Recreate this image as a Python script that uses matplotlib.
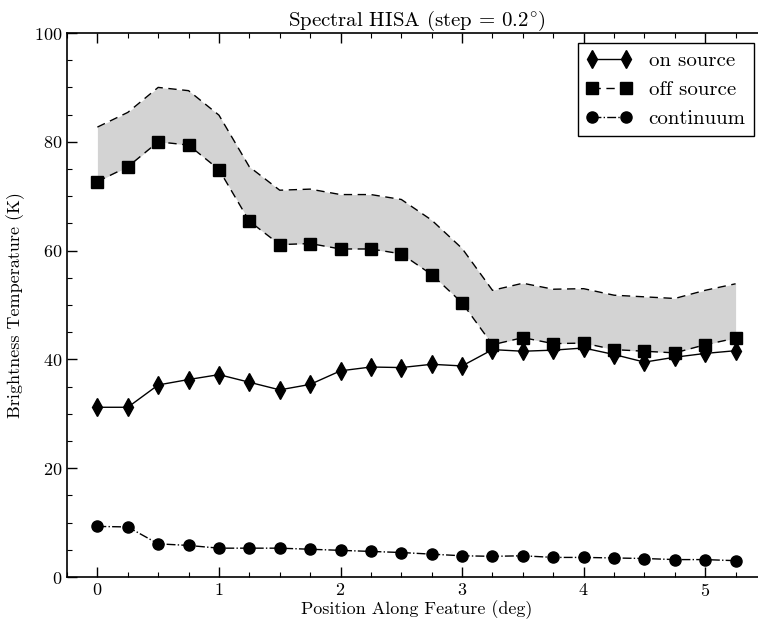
import numpy as np
import matplotlib
matplotlib.use('Agg')
import matplotlib.pyplot as plt
from matplotlib.ticker import MultipleLocator

# fonts: computer modern look
matplotlib.rc('font', family='serif', serif=['cmr10'], size=12)
matplotlib.rc('mathtext', fontset='cm')
matplotlib.rc('axes', unicode_minus=False)
matplotlib.rcParams['axes.formatter.use_mathtext'] = True

############################################################################
# data
############################################################################
position = [0.0, 0.25, 0.5, 0.75, 1.0, 1.25, 1.5, 1.75, 2.0, 2.25, 2.5,
            2.75, 3.0, 3.25, 3.5, 3.75, 4.0, 4.25, 4.5, 4.75, 5.0, 5.25]

on_source = [31.2, 31.2, 35.3, 36.3, 37.2, 35.8, 34.4, 35.4, 37.9, 38.6, 38.5,
             39.1, 38.8, 41.8, 41.5, 41.7, 42.1, 40.9, 39.5, 40.4, 41.1, 41.6]

off_source = [72.7, 75.4, 80.0, 79.4, 74.9, 65.4, 61.1, 61.3, 60.3, 60.3, 59.4,
              55.6, 50.4, 42.7, 44.0, 42.9, 43.0, 41.8, 41.5, 41.2, 42.7, 43.9]

off_upper = [82.7, 85.4, 90.0, 89.4, 84.9, 75.4, 71.1, 71.3, 70.3, 70.3, 69.4,
             65.6, 60.4, 52.7, 54.0, 52.9, 53.0, 51.8, 51.5, 51.2, 52.7, 53.9]

continuum = [9.3, 9.2, 6.1, 5.8, 5.3, 5.3, 5.3, 5.1, 4.9, 4.7, 4.5,
             4.2, 3.9, 3.8, 3.9, 3.6, 3.6, 3.5, 3.4, 3.2, 3.2, 3.0]

############################################################################
# plot
############################################################################
fig = plt.figure(figsize=(7.58, 6.21), dpi=100)
ax = fig.add_axes([67/758., 44/621., 699/758., 544/621.])

ax.fill_between(position, off_source, off_upper, color='#d3d3d3', lw=0, zorder=1)
ax.plot(position, off_upper, ls='--', color='k', lw=1.0, dashes=(6, 4), zorder=2)

ax.plot(position, on_source, '-', color='k', marker='d', ms=9, lw=1.0,
        label='on source', zorder=3)
ax.plot(position, off_source, '--', color='k', marker='s', ms=8, lw=1.0,
        dashes=(6, 4), label='off source', zorder=3)
ax.plot(position, continuum, '-.', color='k', marker='o', ms=8, lw=1.0,
        label='continuum', zorder=3)

ax.set_xlim(-0.25, 5.5)
ax.set_ylim(0, 100)
ax.xaxis.set_major_locator(MultipleLocator(1))
ax.xaxis.set_minor_locator(MultipleLocator(0.25))
ax.yaxis.set_major_locator(MultipleLocator(20))
ax.yaxis.set_minor_locator(MultipleLocator(5))
# right side of the frame falls outside the picture
ax.tick_params(which='both', direction='in', top=True, right=False, labelsize=13)
ax.tick_params(which='major', length=7, width=1.0)
ax.tick_params(which='minor', length=3.5, width=0.8)
for s in ax.spines.values():
    s.set_linewidth(1.2)
ax.spines['right'].set_visible(False)

ax.set_xlabel('Position Along Feature (deg)', fontsize=13, labelpad=1)
ax.set_ylabel('Brightness Temperature (K)', fontsize=13, labelpad=6)
ax.set_title(r'Spectral HISA (step = 0.2$^{\circ}$)', fontsize=15, pad=4)

leg = ax.legend(loc='upper right', bbox_to_anchor=(754/758., 1 - 43/621.),
                bbox_transform=fig.transFigure, borderaxespad=0, numpoints=2,
                fancybox=False, edgecolor='k', framealpha=1, fontsize=15,
                handlelength=2.2, labelspacing=0.5)
leg.get_frame().set_linewidth(1.0)

fig.savefig('out.png', dpi=100)
